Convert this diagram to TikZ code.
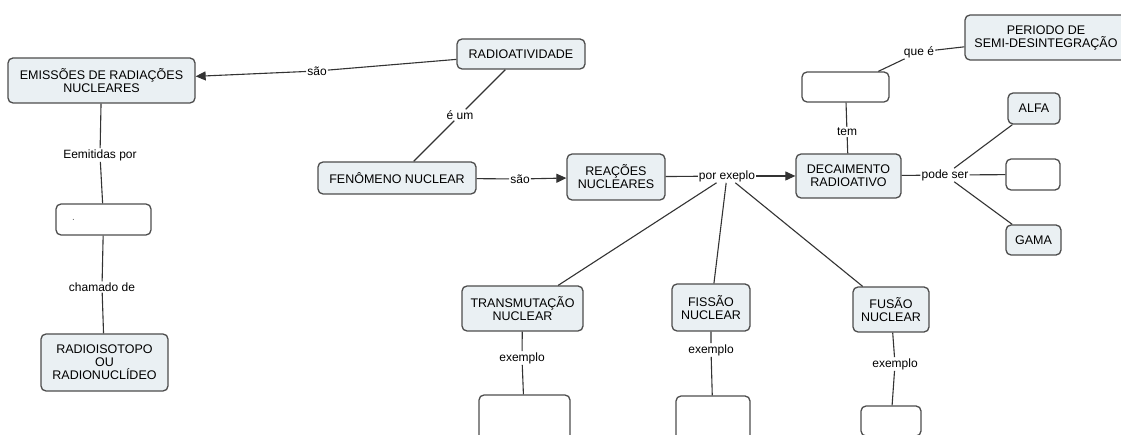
\documentclass[tikz,border=0pt]{standalone}
\usepackage{fontspec}
\setmainfont{Liberation Sans}
\usetikzlibrary{arrows.meta}
\definecolor{conceptfill}{HTML}{EAF0F3}
\definecolor{conceptedge}{HTML}{4D4D4D}
\definecolor{linkline}{HTML}{333333}
\begin{document}
\begin{tikzpicture}[x=1pt,y=-1pt,
  concept/.style={draw=conceptedge,fill=conceptfill,line width=1.3pt,rounded corners=5pt,
    inner sep=0pt,align=center,font=\fontsize{12.5}{13}\selectfont},
  blank/.style={concept,fill=white},
  link/.style={draw=linkline,line width=1.1pt},
  tip/.style={link,-{Triangle[length=10pt,width=9pt]}}]
  \clip (0,0) rectangle (1121,435);
  \fill [white] (0,0) rectangle (1121,435);
  \node [concept,minimum width=187pt,minimum height=45pt] (emiss) at (101.5,80.5) {EMISSÕES DE RADIAÇÕES\\NUCLEARES};
  \node [concept,minimum width=128pt,minimum height=30pt] (radio) at (521,54) {RADIOATIVIDADE};
  \node [concept,minimum width=158pt,minimum height=32pt] (fen) at (397,178) {FENÔMENO NUCLEAR};
  \node [concept,minimum width=98pt,minimum height=46pt] (reac) at (616,177) {REAÇÕES\\NUCLEARES};
  \node [concept,minimum width=105pt,minimum height=44pt] (decai) at (848.5,176) {DECAIMENTO\\RADIOATIVO};
  \node [blank,minimum width=87pt,minimum height=30pt] (meiavida) at (845.5,87) {};
  \node [concept,minimum width=162pt,minimum height=45pt] (periodo) at (1046,37.5) {PERIODO DE\\SEMI-DESINTEGRAÇÃO};
  \node [concept,minimum width=52pt,minimum height=31pt] (alfa) at (1034,108.5) {ALFA};
  \node [blank,minimum width=54pt,minimum height=31pt] (beta) at (1033,174.5) {};
  \node [concept,minimum width=55pt,minimum height=30pt] (gama) at (1033.5,240) {GAMA};
  \node [blank,minimum width=95pt,minimum height=31pt,text width=63pt,align=left,
    font=\fontsize{10}{10}\selectfont,text=black!60] (isotopo) at (103.5,219.5) {.};
  \node [concept,minimum width=127pt,minimum height=57pt] (nuclideo) at (104.5,362.5) {RADIOISOTOPO\\OU\\RADIONUCLÍDEO};
  \node [concept,minimum width=121pt,minimum height=45pt] (transm) at (522.5,308.5) {TRANSMUTAÇÃO\\NUCLEAR};
  \node [concept,minimum width=78pt,minimum height=47pt] (fissao) at (711,307.5) {FISSÃO\\NUCLEAR};
  \node [concept,minimum width=76pt,minimum height=45pt] (fusao) at (891,309.5) {FUSÃO\\NUCLEAR};
  \node [blank,minimum width=91pt,minimum height=54pt] (extransm) at (524.5,422) {};
  \node [blank,minimum width=74pt,minimum height=52pt] (exfissao) at (713,422) {};
  \node [blank,minimum width=60pt,minimum height=30pt] (exfusao) at (891,421) {};
  \begin{scope}[every node/.style={inner sep=1pt,font=\fontsize{12}{13}\selectfont}]
    \path (317,71) node (saoA) {são};
    \path (460,115) node (eum) {é um};
    \path (100,155) node (emitidas) {Eemitidas por};
    \path (102,287) node (chamado) {chamado de};
    \path (520,179) node (saoB) {são};
    \path (727,176) node (porex) {por exeplo};
    \path (847,132) node (tem) {tem};
    \path (919,52) node (quee) {que é};
    \path (945,175) node (podeser) {pode ser};
    \path (522,358) node (exA) {exemplo};
    \path (711,350) node (exB) {exemplo};
    \path (895,364) node (exC) {exemplo};
  \end{scope}
  \draw [link] (radio) -- (saoA);
  \draw [tip] (saoA) -- (emiss);
  \draw [link] (radio) -- (eum) -- (fen);
  \draw [link] (emiss) -- (emitidas) -- (isotopo);
  \draw [link] (isotopo) -- (chamado) -- (nuclideo);
  \draw [link] (fen) -- (saoB);
  \draw [tip] (saoB) -- (reac);
  \draw [link] (reac) -- (porex);
  \draw [tip] (porex) -- (decai);
  \draw [link] (porex) -- (transm);
  \draw [link] (porex) -- (fissao);
  \draw [link] (porex) -- (fusao);
  \draw [link] (decai) -- (tem) -- (meiavida);
  \draw [link] (meiavida) -- (quee) -- (periodo);
  \draw [link] (decai) -- (podeser);
  \draw [link] (podeser) -- (alfa);
  \draw [link] (podeser) -- (beta);
  \draw [link] (podeser) -- (gama);
  \draw [link] (transm) -- (exA) -- (extransm);
  \draw [link] (fissao) -- (exB) -- (exfissao);
  \draw [link] (fusao) -- (exC) -- (exfusao);
\end{tikzpicture}
\end{document}
